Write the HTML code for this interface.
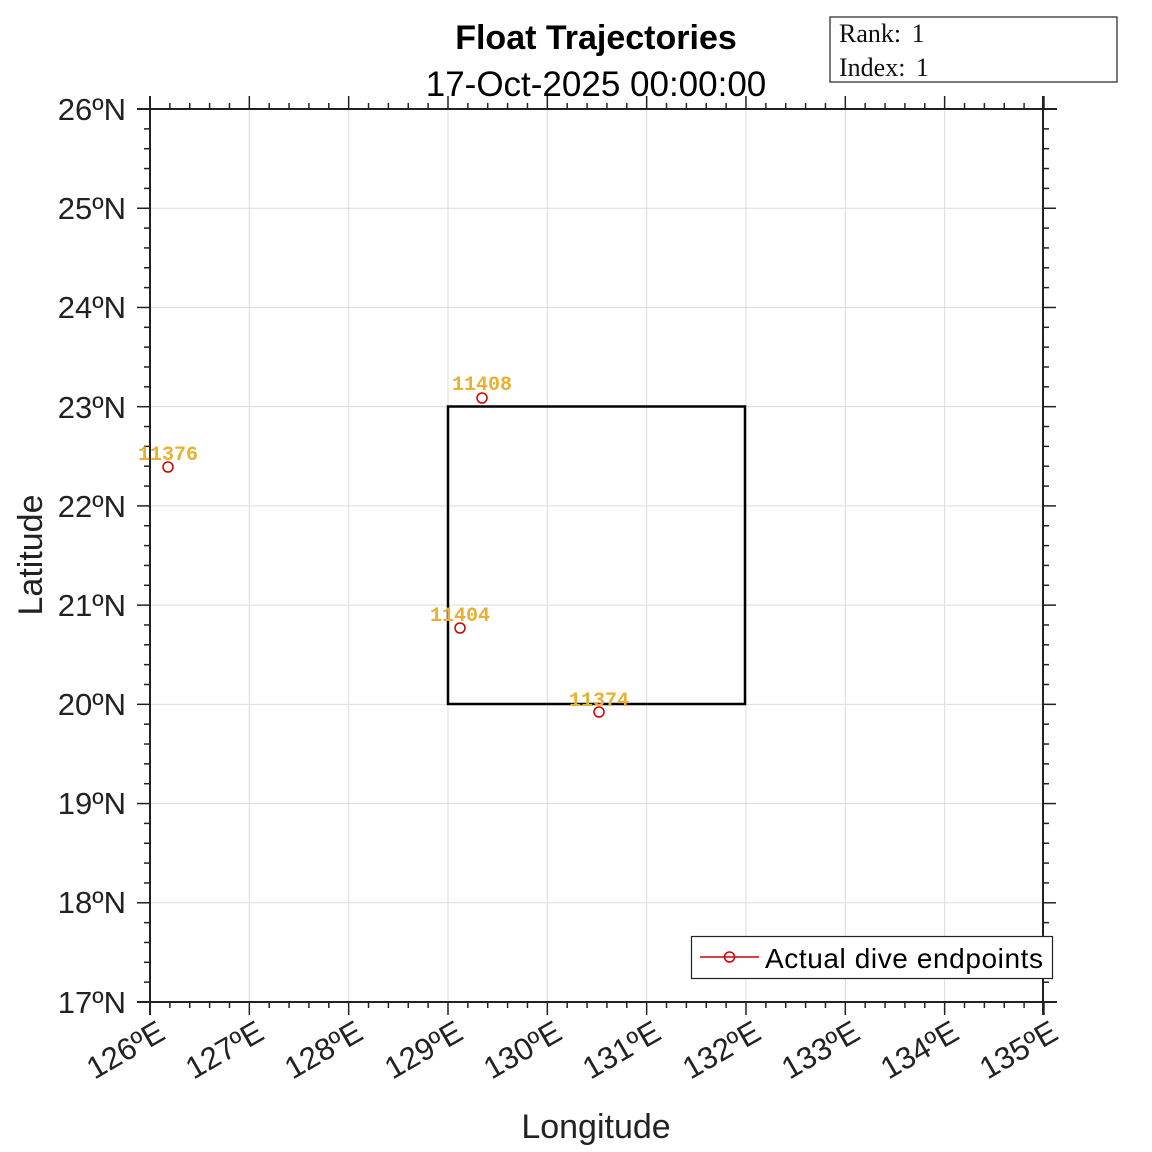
<!DOCTYPE html>
<html><head><meta charset="utf-8"><style>
html,body{margin:0;padding:0;background:#fff;}
svg{display:block;font-family:"Liberation Sans",sans-serif;}
</style></head><body>
<svg id="s" width="1152" height="1152" viewBox="0 0 1152 1152" xmlns="http://www.w3.org/2000/svg">
<g id="grid" stroke="#dcdcdc" stroke-width="1"></g>
<g id="ticks" stroke="#222" stroke-width="1.5"></g>
<g stroke="#222" stroke-width="2" fill="none">
<line x1="137" y1="1002" x2="1057" y2="1002"/>
<line x1="137" y1="109" x2="1057" y2="109"/>
<line x1="150" y1="96" x2="150" y2="1015"/>
<line x1="1043" y1="96" x2="1043" y2="1015"/>
</g>
<rect x="448" y="406.5" width="297" height="297.5" fill="none" stroke="#000" stroke-width="2.5"/>
<g fill="none" stroke="#d00000" stroke-width="1.5">
<circle cx="482" cy="398" r="5"/>
<circle cx="168" cy="467" r="5"/>
<circle cx="460" cy="628" r="5"/>
<circle cx="599" cy="712" r="5"/>
</g>
<g fill="#e8b130" font-family="'Liberation Mono',monospace" font-weight="bold" font-size="20" text-anchor="middle">
<text x="482" y="390">11408</text>
<text x="168" y="460">11376</text>
<text x="460" y="621">11404</text>
<text x="599" y="706">11374</text>
</g>
<g font-size="31" fill="#222" text-anchor="end">
<text x="126" y="120">26ºN</text>
<text x="126" y="219">25ºN</text>
<text x="126" y="318">24ºN</text>
<text x="126" y="418">23ºN</text>
<text x="126" y="517">22ºN</text>
<text x="126" y="616">21ºN</text>
<text x="126" y="715">20ºN</text>
<text x="126" y="814">19ºN</text>
<text x="126" y="913">18ºN</text>
<text x="126" y="1013">17ºN</text>
</g>
<g font-size="31" fill="#222" text-anchor="end">
<text transform="translate(167,1038) rotate(-30)">126ºE</text>
<text transform="translate(266,1038) rotate(-30)">127ºE</text>
<text transform="translate(365,1038) rotate(-30)">128ºE</text>
<text transform="translate(465,1038) rotate(-30)">129ºE</text>
<text transform="translate(564,1038) rotate(-30)">130ºE</text>
<text transform="translate(663,1038) rotate(-30)">131ºE</text>
<text transform="translate(763,1038) rotate(-30)">132ºE</text>
<text transform="translate(862,1038) rotate(-30)">133ºE</text>
<text transform="translate(961,1038) rotate(-30)">134ºE</text>
<text transform="translate(1060,1038) rotate(-30)">135ºE</text>
</g>
<text x="596" y="1138" font-size="34" fill="#222" text-anchor="middle">Longitude</text>
<text transform="translate(42,555) rotate(-90)" font-size="34" fill="#222" text-anchor="middle">Latitude</text>
<text x="596" y="49" font-size="34" font-weight="bold" text-anchor="middle">Float Trajectories</text>
<text x="596" y="96" font-size="35" text-anchor="middle">17-Oct-2025 00:00:00</text>
<rect x="830" y="17" width="287" height="65" fill="#fff" stroke="#222" stroke-width="1.2"/>
<g font-family="'Liberation Serif',serif" font-size="26" fill="#111">
<text x="839" y="42" word-spacing="4">Rank: 1</text>
<text x="839" y="76" word-spacing="4">Index: 1</text>
</g>
<rect x="691.5" y="936.5" width="361" height="42" fill="#fff" stroke="#222" stroke-width="1.2"/>
<line x1="700" y1="957" x2="759" y2="957" stroke="#d00000" stroke-width="1.5"/>
<circle cx="729.5" cy="957" r="5" fill="none" stroke="#d00000" stroke-width="1.5"/>
<text x="765" y="968" font-size="28" fill="#000" textLength="278">Actual dive endpoints</text>
<script>
var ns="http://www.w3.org/2000/svg";
function L(g,a,b,c,d){var l=document.createElementNS(ns,"line");l.setAttribute("x1",a);l.setAttribute("y1",b);l.setAttribute("x2",c);l.setAttribute("y2",d);document.getElementById(g).appendChild(l);}
var px=99.33,py=99.22;
for(var i=1;i<9;i++){var x=150+i*px;L("grid",x,109,x,1002);var y=1002-i*py;L("grid",150,y,1043,y);}
for(var i=0;i<=45;i++){var x=150+i*px/5;var maj=i%5==0;var len=maj?13:6;
L("ticks",x,1002,x,1002+len);L("ticks",x,109,x,109-len);}
for(var i=0;i<=45;i++){var y=1002-i*py/5;var maj=i%5==0;var len=maj?13:6;
L("ticks",150,y,150-len,y);L("ticks",1043,y,1043+len,y);}
</script>
</svg>
</body></html>
